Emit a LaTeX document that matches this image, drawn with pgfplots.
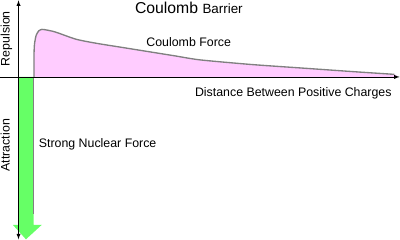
\documentclass[border=0pt]{standalone}
\usepackage{pgfplots}
\pgfplotsset{compat=1.18}
\usepackage{fontspec}
\setmainfont{Liberation Sans}
\definecolor{pinkfill}{RGB}{255,204,255}
\definecolor{greenfill}{RGB}{102,255,102}
\definecolor{curvegray}{RGB}{128,128,128}
\begin{document}
\begin{tikzpicture}
\begin{axis}[
  scale only axis, width=400bp, height=247bp,
  xmin=-24.5, xmax=375.5, ymin=-165, ymax=82,
  axis lines=none, clip=false,
]
% Coulomb force curve (filled)
\addplot[fill=pinkfill, draw=none, smooth, tension=0.4] coordinates {
(15,0) (15,22) (15.5,32) (17,40) (19.5,44.5) (22.5,46) (25.5,45.7) (35.5,43.5) (55.5,36.5) (75.5,32.5) (100.5,28.5) (125.5,24.5) (150.5,20.5) (175.5,16.5) (225.5,12) (275.5,8.5) (325.5,5) (363.5,2.5) (364,0)} -- cycle;
\addplot[curvegray, line width=1.3pt, smooth, tension=0.4] coordinates {
(15,0) (15,22) (15.5,32) (17,40) (19.5,44.5) (22.5,46) (25.5,45.7) (35.5,43.5) (55.5,36.5) (75.5,32.5) (100.5,28.5) (125.5,24.5) (150.5,20.5) (175.5,16.5) (225.5,12) (275.5,8.5) (325.5,5) (363.5,2.5)};
% Strong nuclear force arrow
\addplot[fill=greenfill, draw=none] coordinates {
(0,0) (14.5,0) (14.5,-143) (22.5,-143) (7.2,-157) (-5.5,-143) (0,-143)} -- cycle;
\addplot[curvegray, line width=1pt] coordinates {(14.5,0) (14.5,-133)};
% axes
\addplot[black, line width=0.8pt, <->, >=latex] coordinates {(0,74) (0,-157)};
\addplot[black, line width=0.8pt, ->, >=latex] coordinates {(-17.5,0) (368.5,0)};
% labels
\node[anchor=base west, inner sep=0pt] at (axis cs:112.5,61) {\fontsize{15.3}{17}\selectfont Coulomb \fontsize{13}{15}\selectfont Barrier};
\node[font=\fontsize{12}{14}\selectfont, anchor=base west, inner sep=0pt] at (axis cs:123.5,29) {Coulomb Force};
\node[font=\fontsize{12}{14}\selectfont, anchor=base west, inner sep=0pt] at (axis cs:170.5,-19) {Distance Between Positive Charges};
\node[font=\fontsize{12}{14}\selectfont, anchor=base west, inner sep=0pt] at (axis cs:19.5,-68) {Strong Nuclear Force};
\node[font=\fontsize{12}{14}\selectfont, rotate=90, anchor=base, inner sep=0pt] at (axis cs:-8.5,37) {Repulsion};
\node[font=\fontsize{12}{14}\selectfont, rotate=90, anchor=base, inner sep=0pt] at (axis cs:-8.5,-66) {Attraction};
\end{axis}
\end{tikzpicture}
\end{document}
